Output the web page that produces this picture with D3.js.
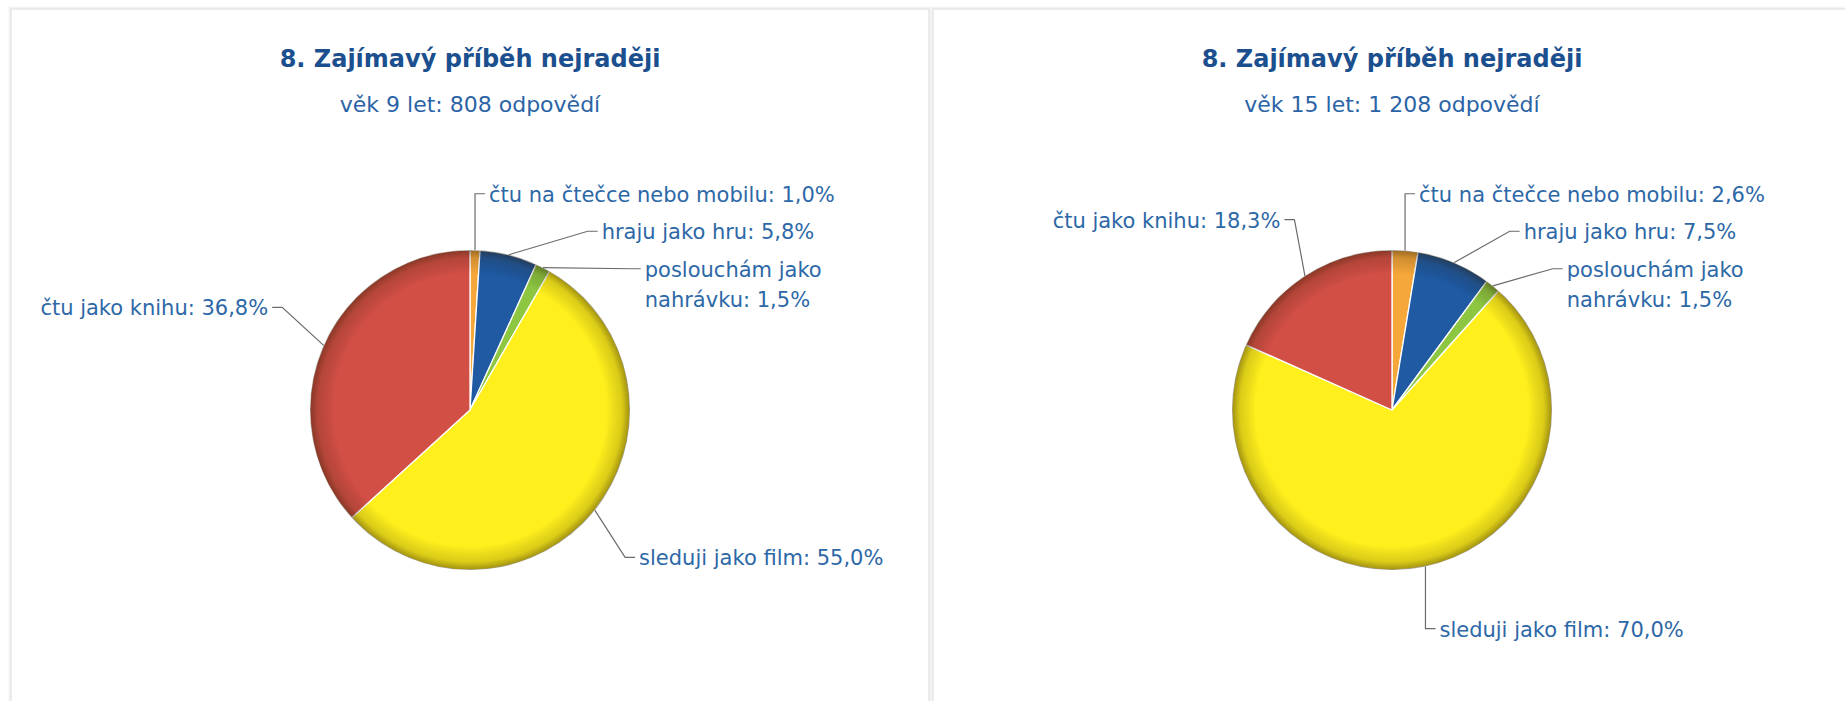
<!DOCTYPE html>
<html>
<head>
<meta charset="utf-8">
<script src="https://cdn.jsdelivr.net/npm/d3@7"></script>
<style>
body { margin: 0; background: #fff; }
svg { display: block; font-family: "DejaVu Sans", Verdana, sans-serif; }
</style>
</head>
<body>
<script>
// categories in the order the slices go round, clockwise from 12 o'clock
var categories = ["čtu na čtečce nebo mobilu", "hraju jako hru", "poslouchám jako nahrávku", "sleduji jako film", "čtu jako knihu"];
var values9 = [1.0, 5.8, 1.5, 55.0, 36.8];
var values15 = [2.6, 7.5, 1.5, 70.0, 18.3];
var chartTitles = ["8. Zajímavý příběh nejraději", "8. Zajímavý příběh nejraději"];
var chartSubtitles = ["věk 9 let: 808 odpovědí", "věk 15 let: 1 208 odpovědí"];
var colors = ["#f5a73a", "#1f5aa3", "#8dc641", "#fff01d", "#d24f45"];

var w = 1845, h = 701;
var panelW = 918, panelGap = 4, panelX0 = 11, panelY0 = 9;
var radius = 160, pieCy = 410;
var labelR = 214; // ring for label x
var naturalR = 202, naturalPush = 21; // wanted label y: ring plus a push away from the centre line
var plotTop = 175, plotBottom = 700;
var boxH = 37.5, lineH = 30; // label slot height, extra line height
var labelMargin = 12;

var cz = d3.formatLocale({decimal: ",", thousands: " ", grouping: [3], currency: ["", " Kč"]});
var pct = cz.format(".1f");

var svg = d3.select("body")
	.append("svg")
	.attr("width", w)
	.attr("height", h);

var defs = svg.append("defs");
var rim = defs.append("radialGradient").attr("id", "rim");
rim.append("stop").attr("offset", "0.85").attr("stop-color", "#000").attr("stop-opacity", 0);
rim.append("stop").attr("offset", "0.95").attr("stop-color", "#2a1a00").attr("stop-opacity", 0.17);
rim.append("stop").attr("offset", "1").attr("stop-color", "#2a1a00").attr("stop-opacity", 0.45);

// hidden text used to measure label widths
var measurer = svg.append("text")
	.attr("font-size", "21px")
	.attr("visibility", "hidden");
function textWidth(s) {
	measurer.text(s);
	return measurer.node().getComputedTextLength();
}

function wrapText(s, maxW) {
	if (textWidth(s) <= maxW) return [s];
	var words = s.split(" "), lines = [], line = "";
	words.forEach(function(wd) {
		var test = line ? line + " " + wd : wd;
		if (line && textWidth(test) > maxW) {
			lines.push(line);
			line = wd;
		} else {
			line = test;
		}
	});
	lines.push(line);
	return lines;
}

// push labels of one side apart so their boxes do not overlap
function layoutSide(list) {
	list.sort(function(a, b) { return a.natural - b.natural; });
	var groups = list.map(function(d) { return {items: [d]}; });
	var again = true;
	while (again) {
		groups.forEach(function(gr) {
			var off = 0, sum = 0;
			gr.items.forEach(function(d) {
				sum += d.natural - off;
				off += boxH + lineH * (d.lines.length - 1);
			});
			gr.size = off;
			gr.top = Math.max(plotTop, sum / gr.items.length - boxH / 2);
			gr.top = Math.min(gr.top, plotBottom - gr.size);
		});
		again = false;
		for (var k = 1; k < groups.length; k++) {
			if (groups[k - 1].top + groups[k - 1].size > groups[k].top) {
				groups[k - 1].items = groups[k - 1].items.concat(groups[k].items);
				groups.splice(k, 1);
				again = true;
				break;
			}
		}
	}
	groups.forEach(function(gr) {
		var off = 0;
		gr.items.forEach(function(d) {
			d.y = gr.top + off + boxH / 2;
			off += boxH + lineH * (d.lines.length - 1);
		});
	});
}

function placeLabels(items, cx) {
	layoutSide(items.filter(function(d) { return d.side > 0; }));
	layoutSide(items.filter(function(d) { return d.side < 0; }));
	items.forEach(function(d) {
		var dy = d.y - pieCy;
		var dx = Math.sqrt(Math.max(0, labelR * labelR - dy * dy));
		d.x = cx + d.side * dx;
		d.x = d.side > 0 ? Math.max(d.x, d.baseX) : Math.min(d.x, d.baseX);
		d.textX = d.x + d.side * 14;
	});
}

function drawPanel(i, values) {
	var px = panelX0 + i * (panelW + panelGap);
	var cx = px + panelW / 2;
	var g = svg.append("g");

	g.append("rect")
		.attr("x", px).attr("y", panelY0)
		.attr("width", panelW).attr("height", h + 100)
		.attr("fill", "none")
		.attr("stroke", "#f3f3f3")
		.attr("stroke-width", 5);
	g.append("rect")
		.attr("x", px).attr("y", panelY0)
		.attr("width", panelW).attr("height", h + 100)
		.attr("fill", "#fff")
		.attr("stroke", "#e6e6e6")
		.attr("stroke-width", 1.5);

	g.append("text")
		.attr("x", cx).attr("y", 67)
		.attr("text-anchor", "middle")
		.attr("font-size", "24px")
		.attr("font-weight", "bold")
		.attr("fill", "#1b4f8e")
		.text(chartTitles[i]);
	g.append("text")
		.attr("x", cx).attr("y", 112)
		.attr("text-anchor", "middle")
		.attr("font-size", "22px")
		.attr("fill", "#2b64a6")
		.text(chartSubtitles[i]);

	var arcs = d3.pie().sort(null).value(function(d) { return d; })(values);
	var arc = d3.arc().innerRadius(0).outerRadius(radius);

	var pieG = g.append("g").attr("transform", "translate(" + cx + "," + pieCy + ")");
	pieG.selectAll("path")
		.data(arcs)
		.enter()
		.append("path")
		.attr("d", arc)
		.attr("fill", function(d, j) { return colors[j]; })
		.attr("stroke", "#fff")
		.attr("stroke-width", 1.3)
		.attr("stroke-linejoin", "round");
	pieG.append("circle")
		.attr("r", radius)
		.attr("fill", "url(#rim)");

	var items = arcs.map(function(d, j) {
		var mid = (d.startAngle + d.endAngle) / 2;
		var c = Math.cos(mid);
		return {
			text: categories[j] + ": " + pct(d.value) + "%",
			side: Math.sin(mid) >= 0 ? 1 : -1,
			natural: pieCy - (naturalR * c + (c >= 0 ? naturalPush : -naturalPush)),
			baseX: cx + radius * Math.sin(mid),
			baseY: pieCy - radius * c
		};
	});

	// first pass on one line, then wrap what runs past the panel, then again
	items.forEach(function(d) { d.lines = [d.text]; });
	placeLabels(items, cx);
	items.forEach(function(d) {
		var avail = d.side > 0 ? px + panelW - labelMargin - d.textX : d.textX - px - labelMargin;
		d.lines = wrapText(d.text, avail);
	});
	placeLabels(items, cx);

	g.selectAll("path.connector")
		.data(items)
		.enter()
		.append("path")
		.attr("class", "connector")
		.attr("fill", "none")
		.attr("stroke", "#6b6b6b")
		.attr("stroke-width", 1.2)
		.attr("d", function(d) {
			return "M" + (d.x + d.side * 10) + "," + d.y +
				"L" + d.x + "," + d.y +
				"L" + d.baseX + "," + d.baseY;
		});

	var labels = g.selectAll("text.label")
		.data(items)
		.enter()
		.append("text")
		.attr("class", "label")
		.attr("font-size", "21px")
		.attr("fill", "#2d68a7")
		.attr("text-anchor", function(d) { return d.side > 0 ? "start" : "end"; })
		.attr("x", function(d) { return d.textX; })
		.attr("y", function(d) { return d.y + 8; });
	labels.selectAll("tspan")
		.data(function(d) { return d.lines.map(function(l) { return {l: l, x: d.textX}; }); })
		.enter()
		.append("tspan")
		.attr("x", function(t) { return t.x; })
		.attr("dy", function(t, k) { return k === 0 ? 0 : lineH; })
		.text(function(t) { return t.l; });
}

drawPanel(0, values9);
drawPanel(1, values15);
measurer.remove();
</script>
</body>
</html>
